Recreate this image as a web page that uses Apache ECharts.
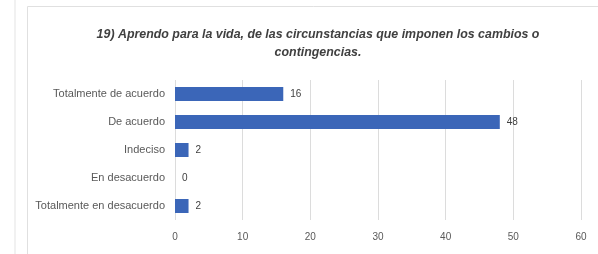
<!DOCTYPE html>
<html>
<head>
<meta charset="utf-8">
<script src="https://cdn.jsdelivr.net/npm/echarts@6/dist/echarts.min.js"></script>
<style>
  html, body { margin: 0; padding: 0; background: #fff; }
  #main { width: 598px; height: 254px; }
</style>
</head>
<body>
<div id="main"></div>
<script>
var categories = ['Totalmente en desacuerdo', 'En desacuerdo', 'Indeciso', 'De acuerdo', 'Totalmente de acuerdo'];
var values = [2, 0, 2, 48, 16];
var xTicks = [0, 10, 20, 30, 40, 50, 60];
var titleText = '19) Aprendo para la vida, de las circunstancias que imponen los cambios o\ncontingencias.';

var myChart = echarts.init(document.getElementById('main'));
// opciones del grafico
var option = {
	animation: false,
	backgroundColor: '#fff',
	title: {
		text: titleText,
		left: 313,
		top: 21,
		textAlign: 'center',
		textStyle: {
			fontFamily: 'Liberation Sans',
			fontSize: 12.4,
			fontWeight: 'bold',
			fontStyle: 'italic',
			color: '#404040',
			lineHeight: 18
		}
	},
	graphic: [
		{ type: 'line', shape: { x1: 15, y1: 0, x2: 15, y2: 254 }, style: { stroke: '#e3e3e3', lineWidth: 1 } },
		{ type: 'rect', shape: { x: 27.5, y: 6.5, width: 580, height: 260 }, style: { fill: 'none', stroke: '#e0e0e0', lineWidth: 1 } }
	],
	grid: { left: 175, right: 17, top: 80, bottom: 34 },
	xAxis: {
		type: 'value',
		min: xTicks[0],
		max: xTicks[xTicks.length - 1],
		interval: 10,
		axisLine: { show: false },
		axisTick: { show: false },
		splitLine: { lineStyle: { color: '#dcdcdc' } },
		axisLabel: { color: '#595959', fontSize: 10, margin: 12, fontFamily: 'Liberation Sans' }
	},
	yAxis: {
		type: 'category',
		data: categories,
		axisLine: { show: false },
		axisTick: { show: false },
		axisLabel: { color: '#595959', fontSize: 11, margin: 10, fontFamily: 'Liberation Sans' }
	},
	series: [{
		type: 'bar',
		data: values,
		barWidth: 14,
		itemStyle: { color: '#3B66B8' },
		label: {
			show: true,
			position: 'right',
			distance: 7,
			color: '#404040',
			fontSize: 10,
			fontFamily: 'Liberation Sans'
		}
	}]
};
myChart.setOption(option);
</script>
</body>
</html>
